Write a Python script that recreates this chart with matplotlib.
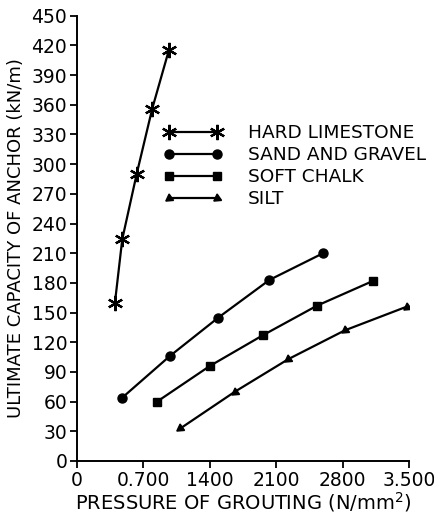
import matplotlib
matplotlib.use("Agg")
import matplotlib.pyplot as plt

# Data (pressure of grouting, ultimate capacity)
hard_x = [400, 477, 629, 793, 968]
hard_y = [160, 224, 290, 356, 415]
sand_x = [477, 978, 1491, 2029, 2595]
sand_y = [64, 106, 145, 183, 210]
chalk_x = [844, 1400, 1958, 2531, 3121]
chalk_y = [60, 96, 127, 157, 182]
silt_x = [1091, 1664, 2229, 2823, 3477]
silt_y = [33, 70, 103, 132, 156]

xticks = [0, 700, 1400, 2100, 2800, 3500]
xticklabels = ["0", "0.700", "1400", "2100", "2800", "3.500"]
yticks = list(range(0, 451, 30))
labels = ["HARD LIMESTONE", "SAND AND GRAVEL", "SOFT CHALK", "SILT"]

plt.rcParams['font.family'] = ['DejaVu Sans']
fig = plt.figure(figsize=(4.35, 5.14), dpi=100)
ax = fig.add_axes([77/435, 53/514, 332/435, 445.3/514])

lw = 1.6
ax.plot(hard_x, hard_y, color='black', lw=lw, marker=(6, 2, 0), ms=11, mew=1.6, label=labels[0])
ax.plot(sand_x, sand_y, color='black', lw=lw, marker='o', ms=6.5, label=labels[1])
ax.plot(chalk_x, chalk_y, color='black', lw=lw, marker='s', ms=5.5, label=labels[2])
ax.plot(silt_x, silt_y, color='black', lw=lw, marker=(3, 0, 125), ms=6.5, label=labels[3])

ax.set_xlim(0, 3500)
ax.set_ylim(0, 450)
ax.set_xticks(xticks)
ax.set_xticklabels(xticklabels)
ax.set_yticks(yticks)
for s in ['top', 'right']:
    ax.spines[s].set_visible(False)
for s in ['left', 'bottom']:
    ax.spines[s].set_linewidth(1.4)
ax.tick_params(axis='both', direction='out', length=5, width=1.3, labelsize=13.5, pad=2)
ax.set_xlabel("PRESSURE OF GROUTING (N/mm$^2$)", fontsize=14, labelpad=0)
ax.set_ylabel("ULTIMATE CAPACITY OF ANCHOR (kN/m)", fontsize=13, labelpad=5)

leg = ax.legend(loc='upper left', bbox_to_anchor=(163/435, 1 - 124/514), bbox_transform=fig.transFigure,
                frameon=False, numpoints=2, handlelength=3.2, handletextpad=1.4,
                labelspacing=0.22, fontsize=13.3, borderpad=0, borderaxespad=0)

fig.savefig("out.png", dpi=100)
